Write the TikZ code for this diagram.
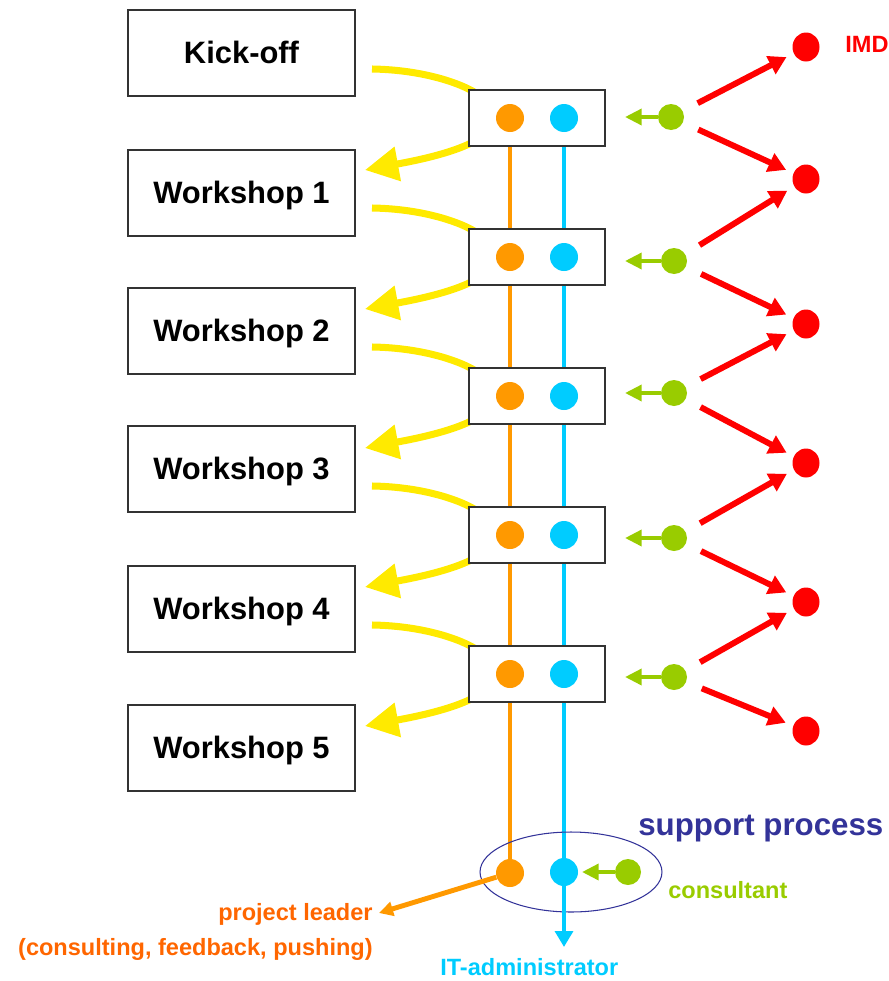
\documentclass[tikz,border=0pt]{standalone}
\usepackage{fontspec}
\setmainfont{Liberation Sans}
\usetikzlibrary{arrows.meta,shapes.geometric,calc}
\definecolor{cOrange}{HTML}{FF9900}
\definecolor{cOrangeT}{HTML}{FF6600}
\definecolor{cCyan}{HTML}{00CCFF}
\definecolor{cGreen}{HTML}{99CC00}
\definecolor{cRed}{HTML}{FF0000}
\definecolor{cYellow}{HTML}{FFEA00}
\definecolor{cNavy}{HTML}{333399}
\pgfdeclarelayer{bg}
\pgfsetlayers{bg,main}
\begin{document}
\begin{tikzpicture}[x=0.02cm,y=-0.02cm,
  phase/.style={draw=black!80, line width=0.9pt, fill=white, minimum width=4.54cm, minimum height=1.72cm, inner sep=0,
    font=\bfseries\fontsize{17.6}{20}\selectfont, text height=12.4pt, text depth=0pt},
  meet/.style={draw=black!80, line width=0.9pt, fill=white, minimum width=2.72cm, minimum height=1.12cm, inner sep=0},
  odot/.style={circle, fill=cOrange, inner sep=0, minimum size=0.56cm},
  cdot/.style={circle, fill=cCyan, inner sep=0, minimum size=0.56cm},
  gdot/.style={circle, fill=cGreen, inner sep=0, minimum size=0.52cm},
  rdot/.style={ellipse, fill=cRed, inner sep=0, minimum width=0.54cm, minimum height=0.58cm},
  redarrow/.style={draw=cRed, line width=3.4pt, -{Triangle[length=10pt,width=11pt]}, shorten <=9.5pt, shorten >=4.5pt},
  greenarrow/.style={draw=cGreen, line width=2.3pt, -{Triangle[length=9.5pt,width=9pt]}},
  yarrow/.style={draw=cYellow, line width=4pt, -{Triangle[length=19pt,width=19pt]}},
  vline/.style={line width=2.3pt},
  lbl/.style={font=\bfseries\fontsize{13.4}{15}\selectfont, inner sep=0},
]
\useasboundingbox (0,0) rectangle (889,981);

% left phase boxes
\node[phase] (p0) at (241.5,53) {Kick-off};
\node[phase] (p1) at (241.5,193) {Workshop 1};
\node[phase] (p2) at (241.5,331) {Workshop 2};
\node[phase] (p3) at (241.5,469) {Workshop 3};
\node[phase] (p4) at (241.5,609) {Workshop 4};
\node[phase] (p5) at (241.5,748) {Workshop 5};

% meeting boxes with dots
\foreach \i/\c in {1/118,2/257,3/396,4/535,5/674}{
  \node[meet] (m\i) at (537,\c) {};
  \node[odot] (o\i) at (510,\c) {};
  \node[cdot] (c\i) at (564,\c) {};
  \coordinate (ys\i) at (372,\c-49);
  \coordinate (ye\i) at (365,\c+52);
}

% yellow arrows (behind meeting boxes)
\begin{pgfonlayer}{bg}
\foreach \i/\c in {1/118,2/257,3/396,4/535,5/674}{
  \draw[yarrow] (ys\i) .. controls (440,\c-48) and (500,\c-23) .. (495,\c+2)
                      .. controls (490,\c+27) and (430,\c+40) .. (ye\i);
}
\end{pgfonlayer}

% bottom support process
\node[draw=cNavy, line width=0.6pt, ellipse, inner sep=0, minimum width=3.64cm, minimum height=1.6cm] (sup) at (571,872) {};
\node[odot] (ob) at (510,873) {};
\node[cdot] (cb) at (564,872) {};
\node[gdot] (gb) at (628,872) {};
\coordinate (gbt) at (582,872);
\coordinate (plt) at (379,913);
\coordinate (itt) at (564,947);

% vertical lines
\begin{pgfonlayer}{bg}
\draw[vline, cOrange] (o1) -- (ob);
\draw[vline, cCyan] (c1) -- (cb);
\end{pgfonlayer}
\draw[cCyan, line width=2.3pt, -{Triangle[length=9pt,width=10pt]}] (cb) -- (itt);
\draw[cOrange, line width=2.8pt, -{Triangle[length=8pt,width=8pt]}] (ob) -- (plt);
\draw[greenarrow] (gb) -- (gbt);

% consultants and IMD
\foreach \i/\x/\y in {1/671/117,2/674/261,3/674/393,4/674/538,5/674/677}{
  \node[gdot] (g\i) at (\x,\y) {};
  \coordinate (gt\i) at (625,\y);
  \draw[greenarrow] (g\i) -- (gt\i);
}
\foreach \i/\y in {1/47,2/179,3/324,4/463,5/602,6/731}{
  \node[rdot] (r\i) at (806,\y) {};
}
\foreach \i [evaluate=\i as \j using int(\i+1)] in {1,...,5}{
  \draw[redarrow] (g\i) -- (r\i);
  \draw[redarrow] (g\i) -- (r\j);
}

% labels
\node[lbl, text=cRed, anchor=base west] (imd) at (845,52) {IMD};
\node[font=\bfseries\fontsize{17.8}{20}\selectfont, text=cNavy, anchor=base west, inner sep=0] (sptxt) at (638,835) {support process};
\node[lbl, text=cGreen, anchor=base west] (cons) at (668,898) {consultant};
\node[lbl, text=cOrangeT, anchor=base east] (pl) at (373,920) {project leader};
\node[lbl, text=cOrangeT, anchor=base east] (plx) at (373,955) {(consulting, feedback, pushing)};
\node[lbl, text=cCyan, anchor=base west] (it) at (440,975) {IT-administrator};
\end{tikzpicture}
\end{document}
